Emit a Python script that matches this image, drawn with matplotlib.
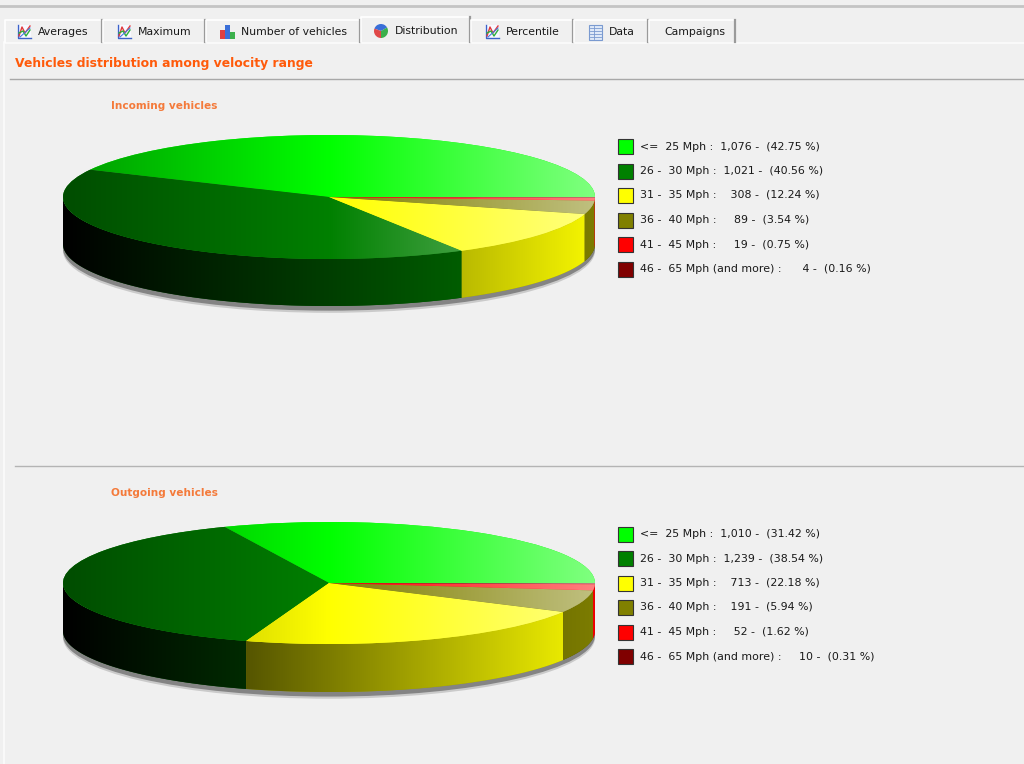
import numpy as np
import matplotlib
matplotlib.use("Agg")
import matplotlib.pyplot as plt
from matplotlib.patches import Polygon, Ellipse, Rectangle, Wedge
from matplotlib.colors import to_rgb

# data
speed_ranges = ["<=  25 Mph", "26 -  30 Mph", "31 -  35 Mph", "36 -  40 Mph",
                "41 -  45 Mph", "46 -  65 Mph (and more)"]
incoming_counts = [1076, 1021, 308, 89, 19, 4]
outgoing_counts = [1010, 1239, 713, 191, 52, 10]
slice_colors = ["#00ff00", "#008000", "#ffff00", "#808000", "#ff0000", "#800000"]
tab_names = ["Averages", "Maximum", "Number of vehicles", "Distribution",
             "Percentile", "Data", "Campaigns"]
tab_icons = ["line", "line", "bar", "pie", "line", "grid", None]

BG = "#f0f0f0"
W, H = 1024, 764

fig = plt.figure(figsize=(W / 100, H / 100), dpi=100, facecolor=BG)
bg = fig.add_axes([0, 0, 1, 1])
bg.set_xlim(0, W)
bg.set_ylim(H, 0)
bg.axis("off")
plt.rcParams["font.family"] = ["DejaVu Sans"]


def line_icon(x, y):
    bg.add_patch(Rectangle((x, y - 7), 14, 14, facecolor="#f8f8ff", edgecolor="none", zorder=5))
    bg.plot([x + 1, x + 1, x + 14], [y - 7, y + 6, y + 6], color="#3b62c8", lw=1, zorder=6)
    bg.plot([x + 2, x + 5, x + 8, x + 13], [y + 4, y - 5, y + 1, y - 6], color="#e03a3a", lw=1, zorder=6)
    bg.plot([x + 2, x + 6, x + 9, x + 13], [y + 1, y - 1, y + 4, y - 2], color="#2cae3c", lw=1, zorder=6)
    bg.plot([x + 3, x + 13], [y + 5, y - 4], color="#4a78e0", lw=0.8, zorder=6)


def bar_icon(x, y):
    for dx, hgt, c in [(0, 9, "#e04040"), (5, 14, "#3a6fd8"), (10, 7, "#3cb04c")]:
        bg.add_patch(Rectangle((x + dx, y + 7 - hgt), 4.5, hgt, facecolor=c, edgecolor="none", zorder=6))


def pie_icon(x, y):
    cx, cy = x + 7, y
    for t1, t2, c in [(200, 330, "#3a6fd8"), (330, 450, "#3cb04c"), (90, 200, "#e04848")]:
        bg.add_patch(Wedge((cx, cy), 7, t1, t2, facecolor=c, edgecolor="none", zorder=6))


def grid_icon(x, y):
    bg.add_patch(Rectangle((x, y - 7), 13, 15, facecolor="#dfe9f8", edgecolor="#7a9ad0", lw=0.8, zorder=6))
    for k in range(1, 5):
        bg.plot([x + 1, x + 12], [y - 7 + 3 * k, y - 7 + 3 * k], color="#7a9ad0", lw=0.6, zorder=7)
    bg.plot([x + 4.5, x + 4.5], [y - 6, y + 7], color="#7a9ad0", lw=0.6, zorder=7)


# window chrome
bg.plot([0, W], [6, 6], color="#c4c4c4", lw=2)
bg.plot([4, W], [42.5, 42.5], color="#fbfbfb", lw=1.2)
bg.plot([3.5, 3.5], [42, H], color="#fbfbfb", lw=1.2)

tab_edges = [5, 103, 206, 361, 471, 574, 649, 736]
text_x = [38, 138, 241, 395, 506, 609, 664]
for i, name in enumerate(tab_names):
    x0, x1 = tab_edges[i], tab_edges[i + 1] - 1
    sel = name == "Distribution"
    top = 17 if sel else 20
    bg.plot([x0, x0, x1], [42, top, top], color="#ffffff", lw=1.2, zorder=4)
    bg.plot([x1, x1], [top, 42], color="#9a9a9a", lw=1.6, zorder=4)
    ty = 31 if sel else 32
    bg.text(text_x[i], ty, name, fontsize=7.8, color="#1a1a1a", va="center", ha="left", zorder=6)
    ic = tab_icons[i]
    if ic == "line":
        line_icon(text_x[i] - 21, ty)
    elif ic == "bar":
        bar_icon(text_x[i] - 21, ty)
    elif ic == "pie":
        pie_icon(text_x[i] - 21, ty)
    elif ic == "grid":
        grid_icon(text_x[i] - 20, ty)

bg.text(15, 64, "Vehicles distribution among velocity range", fontsize=8.9,
        fontweight="bold", color="#ff5a0a", va="center", ha="left")
bg.plot([10, W], [78.5, 78.5], color="#a8a8a8", lw=1)
bg.plot([15, W], [465.5, 465.5], color="#b4b4b4", lw=1)

xs = np.linspace(-1, 1, 256)


def top_grad(color):
    c = np.array(to_rgb(color))
    t = xs[:, None]
    out = np.where(t < 0, c * (1 + 0.4 * t), c + (1 - c) * 0.5 * t)
    return np.clip(out, 0, 1)[None, :, :]


def wall_grad(color):
    c = np.array(to_rgb(color))
    t = xs[:, None]
    return np.clip(c * (t + 1) / 2 * 0.97, 0, 1)[None, :, :]


def draw_pie(counts, cx, cy, a, b, depth, title, legend_y):
    pad = 8
    left = (cx - a - pad) / W
    bottom = 1 - (cy + b + depth + pad + 4) / H
    ax = fig.add_axes([left, bottom, (2 * a + 2 * pad) / W, (2 * b + depth + 2 * pad + 4) / H])
    d = depth / b
    wedges, _ = ax.pie(counts, colors=slice_colors, startangle=0, counterclock=True,
                       radius=1, wedgeprops=dict(linewidth=0))
    ax.set_aspect("auto")

    # shadow under the cylinder
    ax.add_patch(Ellipse((0, -d - 0.11), 2.0, 2.0, facecolor="#cacaca", edgecolor="none", zorder=0.5))
    ax.add_patch(Ellipse((0, -d - 0.075), 2.0, 2.0, facecolor="#848484", edgecolor="none", zorder=0.6))

    for w, col in zip(wedges, slice_colors):
        w.set_zorder(3)
        im = ax.imshow(top_grad(col), extent=(-1, 1, -1, 1), aspect="auto",
                       interpolation="bilinear", zorder=3.1)
        im.set_clip_path(w)
        lo, hi = max(w.theta1, 180), min(w.theta2, 360)
        if hi > lo:
            t = np.radians(np.linspace(lo, hi, 80))
            topc = np.column_stack([np.cos(t), np.sin(t)])
            botc = np.column_stack([np.cos(t), np.sin(t) - d])
            poly = Polygon(np.vstack([topc, botc[::-1]]), closed=True,
                           facecolor=np.array(to_rgb(col)) * 0.6, edgecolor="none", zorder=2)
            ax.add_patch(poly)
            wim = ax.imshow(wall_grad(col), extent=(-1, 1, -1 - d, 0), aspect="auto",
                            interpolation="bilinear", zorder=2.1)
            wim.set_clip_path(poly)

    ax.set_xlim(-1 - pad / a, 1 + pad / a)
    ax.set_ylim(-1 - (depth + pad + 4) / b, 1 + pad / b)
    ax.axis("off")

    bg.text(111, cy - b - 29, title, fontsize=7.6, fontweight="bold",
            color="#f47a3a", va="center", ha="left")

    total = sum(counts)
    for i, (lbl, n) in enumerate(zip(speed_ranges, counts)):
        y = legend_y + i * 24.5
        bg.add_patch(Rectangle((618, y - 7.5), 15, 15, facecolor=slice_colors[i],
                               edgecolor="#333333", lw=0.8))
        txt = f"{lbl} :  {n:>5,} -  ({100 * n / total:.2f} %)"
        bg.text(640, y, txt, fontsize=7.9, color="#1a1a1a", va="center", ha="left")


draw_pie(incoming_counts, 329, 197, 266, 62, 47, "Incoming vehicles", 146.5)
draw_pie(outgoing_counts, 329, 583, 266, 61, 48, "Outgoing vehicles", 534)

fig.savefig("out.png", dpi=100, facecolor=BG)
